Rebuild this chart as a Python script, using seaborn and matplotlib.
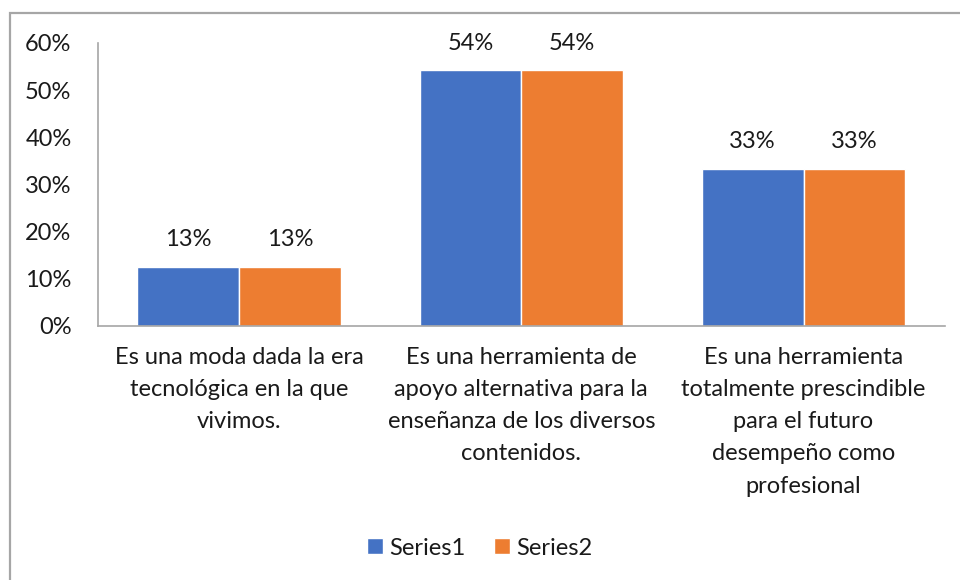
import matplotlib
matplotlib.use("Agg")
import matplotlib.pyplot as plt
import matplotlib.patches as patches
from matplotlib.ticker import PercentFormatter
import seaborn as sns
import pandas as pd

categories = [
    "Es una moda dada la era\ntecnológica en la que\nvivimos.",
    "Es una herramienta de\napoyo alternativa para la\nenseñanza de los diversos\ncontenidos.",
    "Es una herramienta\ntotalmente prescindible\npara el futuro\ndesempeño como\nprofesional",
]
series_names = ["Series1", "Series2"]
series1 = [0.125, 0.5417, 0.3333]
series2 = [0.125, 0.5417, 0.3333]
yticks = [0, 0.1, 0.2, 0.3, 0.4, 0.5, 0.6]

df = pd.DataFrame({
    "cat": categories * 2,
    "serie": [series_names[0]] * 3 + [series_names[1]] * 3,
    "valor": series1 + series2,
})

sns.set_style("white")
plt.rcParams["font.family"] = ["Lato", "DejaVu Sans"]

fig = plt.figure(figsize=(9.6, 5.8), dpi=100)
ax = fig.add_axes([0.102, 0.438, 0.882, 0.488])

sns.barplot(data=df, x="cat", y="valor", hue="serie", order=categories,
            palette=["#4472C4", "#ED7D31"], width=0.72, saturation=1,
            ax=ax, legend=True)

for cont in ax.containers:
    labels = [str(int(b.get_height() * 100 + 0.5)) + "%" for b in cont]
    ax.bar_label(cont, labels=labels, padding=12, fontsize=17, color="#1a1a1a")

ax.set_ylim(0, 0.6)
ax.set_yticks(yticks)
ax.yaxis.set_major_formatter(PercentFormatter(1.0, decimals=0))
ax.set_xlabel("")
ax.set_ylabel("")
ax.tick_params(axis="y", length=0, pad=19, labelsize=17, labelcolor="#1a1a1a")
ax.tick_params(axis="x", length=0, pad=15, labelsize=17, labelcolor="#1a1a1a")
for lab in ax.get_xticklabels():
    lab.set_horizontalalignment("center")
    lab.set_multialignment("center")
    lab.set_linespacing(1.66)

sns.despine(ax=ax, top=True, right=True)
ax.spines["left"].set_color("#A6A6A6")
ax.spines["bottom"].set_color("#A6A6A6")
ax.spines["left"].set_linewidth(1.2)
ax.spines["bottom"].set_linewidth(1.2)

leg = ax.legend(loc="center", bbox_to_anchor=(0.5, 0.055), bbox_transform=fig.transFigure,
                ncol=2, frameon=False, fontsize=17, handlelength=0.65, handleheight=0.65,
                handletextpad=0.3, columnspacing=1.2)
for t in leg.get_texts():
    t.set_color("#1a1a1a")

# chart area border, cut off at the right and bottom like the source image
border = patches.Rectangle((10 / 960, -0.2), 1.2, 0.2 + (1 - 13 / 580),
                           transform=fig.transFigure, fill=False,
                           edgecolor="#A6A6A6", linewidth=1.6)
fig.patches.append(border)

fig.savefig("out.png", dpi=100, facecolor="white")
